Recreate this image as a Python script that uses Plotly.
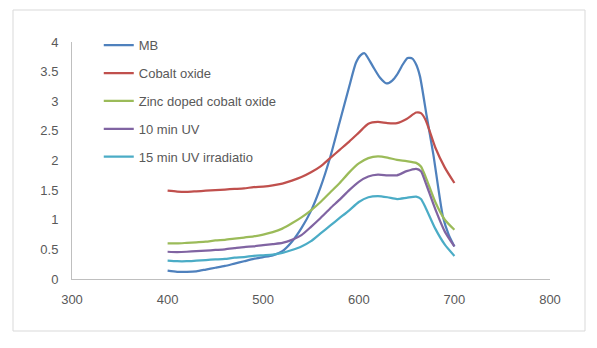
import plotly.graph_objects as go

# ---- data ----
wavelength = [400, 410, 420, 430, 440, 450, 460, 470, 480, 490, 500,
              510, 520, 530, 540, 550, 560, 570, 580, 590, 600,
              610, 620, 630, 640, 650, 660, 665, 670, 680, 690, 700]

mb_wavelength = [400, 410, 420, 430, 440, 450, 460, 470, 480, 490, 500,
                 510, 520, 530, 540, 550, 560, 570, 580, 590, 597, 602,
                 606, 610, 615, 622, 629, 635, 640, 646, 651, 656, 660,
                 664, 671, 678, 688, 694, 700]
mb = [0.14, 0.12, 0.12, 0.13, 0.16, 0.19, 0.22, 0.26, 0.30, 0.34, 0.37,
      0.40, 0.47, 0.63, 0.86, 1.15, 1.55, 2.05, 2.65, 3.25, 3.65, 3.78,
      3.81, 3.72, 3.58, 3.40, 3.30, 3.35, 3.45, 3.62, 3.73, 3.72, 3.62,
      3.42, 2.75, 2.10, 1.05, 0.75, 0.55]

cobalt_oxide = [1.49, 1.475, 1.47, 1.48, 1.49, 1.50, 1.51, 1.52, 1.53, 1.55, 1.56,
                1.58, 1.61, 1.66, 1.72, 1.80, 1.90, 2.04, 2.18, 2.32, 2.47,
                2.62, 2.65, 2.63, 2.63, 2.70, 2.81, 2.80, 2.68, 2.22, 1.88, 1.62]

zinc_doped = [0.60, 0.60, 0.61, 0.62, 0.63, 0.65, 0.66, 0.68, 0.70, 0.72, 0.75,
              0.79, 0.85, 0.94, 1.04, 1.16, 1.30, 1.46, 1.62, 1.80, 1.95,
              2.04, 2.07, 2.05, 2.01, 1.99, 1.96, 1.90, 1.72, 1.30, 1.00, 0.83]

uv_10 = [0.46, 0.455, 0.46, 0.47, 0.48, 0.49, 0.50, 0.52, 0.54, 0.55, 0.57,
         0.59, 0.61, 0.66, 0.74, 0.88, 1.03, 1.19, 1.34, 1.50, 1.64,
         1.73, 1.76, 1.75, 1.75, 1.82, 1.86, 1.82, 1.62, 1.18, 0.80, 0.55]

uv_15 = [0.31, 0.30, 0.30, 0.31, 0.32, 0.33, 0.34, 0.36, 0.37, 0.39, 0.40,
         0.41, 0.44, 0.49, 0.55, 0.64, 0.77, 0.90, 1.03, 1.16, 1.30,
         1.38, 1.40, 1.38, 1.35, 1.37, 1.39, 1.35, 1.20, 0.85, 0.58, 0.39]

series_names = ["MB", "Cobalt oxide", "Zinc doped cobalt oxide",
                "10 min UV", "15 min UV irradiatio"]
colors = ["#4F81BD", "#C0504D", "#9BBB59", "#8064A2", "#4BACC6"]

x_ticks = [300, 400, 500, 600, 700, 800]
y_ticks = [0, 0.5, 1, 1.5, 2, 2.5, 3, 3.5, 4]

# ---- figure ----
fig = go.Figure()
xs = [mb_wavelength, wavelength, wavelength, wavelength, wavelength]
ys = [mb, cobalt_oxide, zinc_doped, uv_10, uv_15]
for i, (xv, yv) in enumerate(zip(xs, ys)):
    fig.add_trace(go.Scatter(
        x=xv, y=yv, name=series_names[i], mode="lines",
        line=dict(color=colors[i], width=2.25, shape="spline", smoothing=0.6),
        legendgroup=str(i),
    ))

fig.update_layout(
    width=597, height=348,
    margin=dict(l=72, r=47, t=42, b=69),
    paper_bgcolor="white", plot_bgcolor="white",
    font=dict(family="Liberation Sans, Arial, sans-serif", size=13, color="#595959"),
    showlegend=True,
    legend=dict(x=0.056, y=1.05, xanchor="left", yanchor="top",
                bgcolor="rgba(0,0,0,0)", borderwidth=0,
                tracegroupgap=8, font=dict(size=13, color="#595959")),
    xaxis=dict(range=[300, 800], tickvals=x_ticks, ticktext=[str(v) for v in x_ticks],
               showgrid=False, zeroline=False, showline=True, linecolor="#BFBFBF",
               linewidth=1, ticks="", ticklabelstandoff=8),
    yaxis=dict(range=[0, 4], tickvals=y_ticks, ticktext=[f"{v:g}" for v in y_ticks],
               showgrid=False, zeroline=False, showline=True, linecolor="#BFBFBF",
               linewidth=1, ticks="", ticklabelstandoff=10),
)

# chart-area border
fig.add_shape(type="rect", xref="paper", yref="paper",
              x0=(13 - 72) / 478, x1=(585 - 72) / 478,
              y0=(279 - 331) / 237, y1=(279 - 10) / 237,
              line=dict(color="#D9D9D9", width=1), fillcolor="rgba(0,0,0,0)",
              layer="below")

fig.write_html("out.html")
